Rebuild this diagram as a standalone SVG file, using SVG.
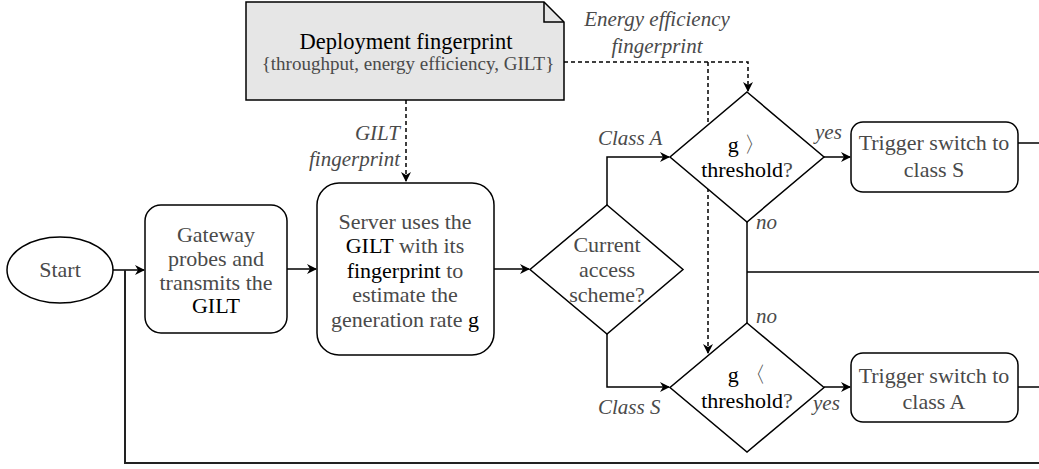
<svg xmlns="http://www.w3.org/2000/svg" width="1039" height="469" viewBox="0 0 1039 469">
<style>
.t{font-family:'Liberation Serif',serif;font-size:22px;fill:#4a4a4a;text-anchor:middle}
.k{fill:#000}
.i{font-family:'Liberation Serif',serif;font-size:21px;font-style:italic;fill:#4a4a4a}
.s{fill:#fff;stroke:#000;stroke-width:1.5}
.c{fill:none;stroke:#000;stroke-width:1.5}
.d{fill:none;stroke:#000;stroke-width:1.5;stroke-dasharray:4 3}
</style>
<defs>
<marker id="a" viewBox="0 0 10 10" refX="9" refY="5" markerWidth="10" markerHeight="10" markerUnits="userSpaceOnUse" orient="auto">
<path d="M0,0 L10,5 L0,10 L3,5 Z" fill="#000"/>
</marker>
</defs>
<g id="connectors">
<path class="c" d="M113,270 H144" marker-end="url(#a)"/>
<path class="c" d="M287,269 H316" marker-end="url(#a)"/>
<path class="c" d="M494,269 H529" marker-end="url(#a)"/>
<path class="c" d="M607,205 V157 H669" marker-end="url(#a)"/>
<path class="c" d="M607,334 V387 H669" marker-end="url(#a)"/>
<path class="c" d="M824,157 H850" marker-end="url(#a)"/>
<path class="c" d="M824,387 H850" marker-end="url(#a)"/>
<path class="c" d="M747,222 V323"/>
<path class="c" d="M747,272 H1039"/>
<path class="c" d="M1018,143 H1039"/>
<path class="c" d="M1018,387 H1039"/>
<path class="c" style="stroke-width:2;stroke:#222" d="M125,270 V463 H1039"/>
<path class="d" d="M406,100 V181" marker-end="url(#a)"/>
<path class="d" d="M564,62 H748 V91" marker-end="url(#a)"/>
<path class="d" d="M708,62 V353" marker-end="url(#a)"/>
<text class="i" x="400" y="140" text-anchor="end">GILT</text>
<text class="i" x="400" y="166" text-anchor="end">fingerprint</text>
<text class="i" x="657" y="26" text-anchor="middle">Energy efficiency</text>
<text class="i" x="657" y="53" text-anchor="middle">fingerprint</text>
<text class="i" x="598" y="145">Class A</text>
<text class="i" x="598" y="414">Class S</text>
<text class="i" x="815" y="139">yes</text>
<text class="i" x="813" y="410">yes</text>
<text class="i" x="756" y="229">no</text>
<text class="i" x="756" y="323">no</text>
</g>
<g id="note">
<path d="M246,2 H544 L564,22 V100 H246 Z" fill="#e6e6e6" stroke="#000" stroke-width="1.5"/>
<path d="M544,2 V22 H564" fill="none" stroke="#000" stroke-width="1.5"/>
<text class="t" x="406" y="49" style="font-size:22.5px"><tspan class="k">Deployment fingerprint</tspan></text>
<text class="t" x="408" y="70" style="font-size:19px">{throughput, energy efficiency, GILT}</text>
</g>
<g id="start">
<ellipse class="s" cx="60" cy="270" rx="53" ry="33"/>
<text class="t" x="60" y="277">Start</text>
</g>
<g id="gateway">
<rect class="s" x="145" y="205" width="142" height="128" rx="16"/>
<text class="t" x="216" y="242">Gateway</text>
<text class="t" x="216" y="266">probes and</text>
<text class="t" x="216" y="290">transmits the</text>
<text class="t" x="216" y="313"><tspan class="k">GILT</tspan></text>
</g>
<g id="server">
<rect class="s" x="317" y="183" width="177" height="172" rx="22"/>
<text class="t" x="405" y="229">Server uses the</text>
<text class="t" x="405" y="253"><tspan class="k">GILT</tspan> with its</text>
<text class="t" x="405" y="278"><tspan class="k">fingerprint</tspan> to</text>
<text class="t" x="405" y="302">estimate the</text>
<text class="t" x="405" y="327">generation rate <tspan class="k">g</tspan></text>
</g>
<g id="scheme">
<path class="s" d="M607,205 L683,269.5 L607,334 L530,269.5 Z"/>
<text class="t" x="607" y="252">Current</text>
<text class="t" x="607" y="277">access</text>
<text class="t" x="607" y="302">scheme?</text>
</g>
<g id="gt">
<path class="s" d="M747,92 L824,157 L747,222 L670,157 Z"/>
<text class="t" x="747" y="152"><tspan class="k">g</tspan> 〉</text>
<text class="t" x="747" y="177"><tspan class="k">threshold</tspan>?</text>
</g>
<g id="lt">
<path class="s" d="M747,323 L824,387.5 L747,452 L670,387.5 Z"/>
<text class="t" x="747" y="382"><tspan class="k">g</tspan> 〈</text>
<text class="t" x="747" y="408"><tspan class="k">threshold</tspan>?</text>
</g>
<g id="toS">
<rect class="s" x="851" y="122" width="167" height="70" rx="12"/>
<text class="t" x="934" y="150">Trigger switch to</text>
<text class="t" x="934" y="177">class S</text>
</g>
<g id="toA">
<rect class="s" x="851" y="353" width="167" height="69" rx="12"/>
<text class="t" x="934" y="383">Trigger switch to</text>
<text class="t" x="934" y="409">class A</text>
</g>
</svg>
